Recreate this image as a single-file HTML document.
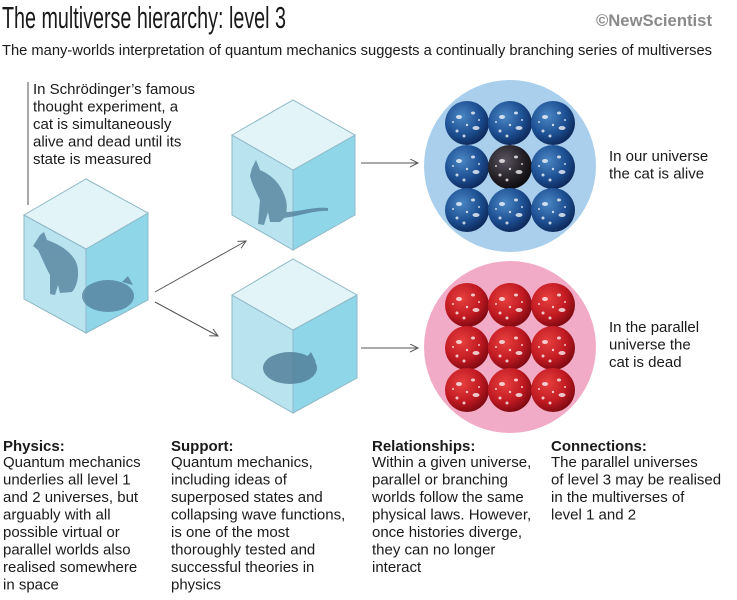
<!DOCTYPE html>
<html><head><meta charset="utf-8"><style>
html,body{margin:0;padding:0;background:#fff}
svg{display:block}
text{font-family:"Liberation Sans Narrow","Liberation Sans",sans-serif;fill:#1a1a1a}
.b{font-size:15px}
.h{font-size:15px;font-weight:bold;font-family:"Liberation Sans",sans-serif}
</style></head><body>
<svg width="737" height="600" viewBox="0 0 737 600" xmlns="http://www.w3.org/2000/svg">
<defs>
<radialGradient id="bl" cx="0.38" cy="0.35" r="0.7">
<stop offset="0" stop-color="#4a86c4"/><stop offset="0.6" stop-color="#1d4f92"/><stop offset="1" stop-color="#0c2656"/></radialGradient>
<radialGradient id="bk" cx="0.38" cy="0.35" r="0.7">
<stop offset="0" stop-color="#5a5560"/><stop offset="0.6" stop-color="#262228"/><stop offset="1" stop-color="#0b0a0e"/></radialGradient>
<radialGradient id="rd" cx="0.38" cy="0.35" r="0.7">
<stop offset="0" stop-color="#e8403e"/><stop offset="0.6" stop-color="#c11a22"/><stop offset="1" stop-color="#7a0810"/></radialGradient>
<marker id="ar" markerWidth="10" markerHeight="10" refX="8" refY="4" orient="auto" markerUnits="userSpaceOnUse">
<path d="M0,0 L8,4 L0,8" fill="none" stroke="#555" stroke-width="1"/></marker>
<g id="dots" fill="#fff" opacity="0.75">
<ellipse cx="-8" cy="-6" rx="3" ry="2"/><ellipse cx="6" cy="-10" rx="2" ry="1.5"/><ellipse cx="9" cy="5" rx="3.5" ry="2"/><circle cx="-10" cy="8" r="1.5"/><circle cx="0" cy="2" r="1.2"/><circle cx="-3" cy="13" r="1.5"/><circle cx="12" cy="-3" r="1"/><circle cx="-14" cy="-1" r="1"/>
</g>
</defs>

<text x="2" y="28" style="font-size:31px" textLength="284" lengthAdjust="spacingAndGlyphs">The multiverse hierarchy: level 3</text>
<text x="596" y="26" style="font-size:17px;fill:#8a8a8a;font-weight:bold" textLength="116" lengthAdjust="spacingAndGlyphs">©NewScientist</text>
<text x="2" y="55" style="font-size:15px" textLength="710" lengthAdjust="spacingAndGlyphs">The many-worlds interpretation of quantum mechanics suggests a continually branching series of multiverses</text>

<line x1="28" y1="82" x2="28" y2="205" stroke="#555" stroke-width="1"/>
<g class="b">
<text x="33" y="94" class="b">In Schrödinger’s famous</text>
<text x="33" y="111.5" class="b">thought experiment, a</text>
<text x="33" y="129" class="b">cat is simultaneously</text>
<text x="33" y="146.5" class="b">alive and dead until its</text>
<text x="33" y="164" class="b">state is measured</text>
</g>

<!-- cube 1 -->
<g stroke="#8fb9c7" stroke-width="1">
<polygon points="24,215 86,249 86,333 24,299" fill="#b9e3ef"/>
<polygon points="86,249 148,213 148,300 86,333" fill="#8fd6e8"/>
<polygon points="24,215 86,179 148,213 86,249" fill="#e3f4f9"/>
</g>
<g fill="#4f7b98" opacity="0.75">
<path d="M40,235 L44,232 L47,240 C58,244 70,250 76,262 C80,272 78,285 72,292 L60,293 L58,285 L55,295 L50,294 L50,275 C46,268 42,258 38,250 L33,246 Z"/>
<ellipse cx="108" cy="296" rx="26" ry="16"/>
<path d="M122,282 L128,276 L133,285 Z"/>
</g>

<!-- cube 2 -->
<g stroke="#8fb9c7" stroke-width="1">
<polygon points="232,135 293,170 293,250 232,215" fill="#b9e3ef"/>
<polygon points="293,170 355,135 355,215 293,250" fill="#8fd6e8"/>
<polygon points="232,135 293,100 355,135 293,170" fill="#e3f4f9"/>
</g>
<g fill="#4f7b98" opacity="0.75">
<path d="M252,168 L256,160 L260,170 C272,175 282,185 286,200 C288,210 286,218 280,222 L270,222 L268,212 L264,225 L258,224 L260,200 C256,192 252,184 250,176 Z"/>
<path d="M284,212 C300,212 315,206 328,208 L328,211 C315,210 300,216 284,218 Z"/>
</g>

<!-- cube 3 -->
<g stroke="#8fb9c7" stroke-width="1">
<polygon points="232,295 293,330 293,413 232,378" fill="#b9e3ef"/>
<polygon points="293,330 357,295 357,378 293,413" fill="#8fd6e8"/>
<polygon points="232,295 293,259 357,295 293,330" fill="#e3f4f9"/>
</g>
<g fill="#4f7b98" opacity="0.8">
<ellipse cx="290" cy="368" rx="27" ry="16"/>
<path d="M306,358 L311,352 L316,362 Z"/>
</g>

<!-- arrows -->
<g stroke="#555" stroke-width="1" fill="none" marker-end="url(#ar)">
<line x1="155" y1="292" x2="246" y2="241"/>
<line x1="155" y1="302" x2="218" y2="336"/>
<line x1="361" y1="163" x2="418" y2="163"/>
<line x1="361" y1="348" x2="418" y2="348"/>
</g>

<!-- blue circle -->
<circle cx="510" cy="166" r="86" fill="#a9cfec"/>
<g>
<circle cx="467" cy="123" r="22" fill="url(#bl)"/><use href="#dots" x="467" y="123"/>
<circle cx="510" cy="123" r="22" fill="url(#bl)"/><use href="#dots" x="510" y="123"/>
<circle cx="553" cy="123" r="22" fill="url(#bl)"/><use href="#dots" x="553" y="123"/>
<circle cx="467" cy="167" r="22" fill="url(#bl)"/><use href="#dots" x="467" y="167"/>
<circle cx="510" cy="167" r="22" fill="url(#bk)"/><use href="#dots" x="510" y="167"/>
<circle cx="553" cy="167" r="22" fill="url(#bl)"/><use href="#dots" x="553" y="167"/>
<circle cx="467" cy="210" r="22" fill="url(#bl)"/><use href="#dots" x="467" y="210"/>
<circle cx="510" cy="210" r="22" fill="url(#bl)"/><use href="#dots" x="510" y="210"/>
<circle cx="553" cy="210" r="22" fill="url(#bl)"/><use href="#dots" x="553" y="210"/>
</g>
<text x="609" y="161" class="b">In our universe</text>
<text x="609" y="178.5" class="b">the cat is alive</text>

<!-- pink circle -->
<circle cx="510" cy="347" r="86" fill="#f2abc6"/>
<g>
<circle cx="467" cy="305" r="22" fill="url(#rd)"/><use href="#dots" x="467" y="305"/>
<circle cx="510" cy="305" r="22" fill="url(#rd)"/><use href="#dots" x="510" y="305"/>
<circle cx="553" cy="305" r="22" fill="url(#rd)"/><use href="#dots" x="553" y="305"/>
<circle cx="467" cy="348" r="22" fill="url(#rd)"/><use href="#dots" x="467" y="348"/>
<circle cx="510" cy="348" r="22" fill="url(#rd)"/><use href="#dots" x="510" y="348"/>
<circle cx="553" cy="348" r="22" fill="url(#rd)"/><use href="#dots" x="553" y="348"/>
<circle cx="467" cy="390" r="22" fill="url(#rd)"/><use href="#dots" x="467" y="390"/>
<circle cx="510" cy="390" r="22" fill="url(#rd)"/><use href="#dots" x="510" y="390"/>
<circle cx="553" cy="390" r="22" fill="url(#rd)"/><use href="#dots" x="553" y="390"/>
</g>
<text x="609" y="332" class="b">In the parallel</text>
<text x="609" y="349.5" class="b">universe the</text>
<text x="609" y="367" class="b">cat is dead</text>

<!-- bottom columns -->
<text x="3" y="451" class="h">Physics:</text>
<text x="3" y="467" class="b">Quantum mechanics</text>
<text x="3" y="484.5" class="b">underlies all level 1</text>
<text x="3" y="502" class="b">and 2 universes, but</text>
<text x="3" y="519.5" class="b">arguably with all</text>
<text x="3" y="537" class="b">possible virtual or</text>
<text x="3" y="554.5" class="b">parallel worlds also</text>
<text x="3" y="572" class="b">realised somewhere</text>
<text x="3" y="589.5" class="b">in space</text>

<text x="171" y="451" class="h">Support:</text>
<text x="171" y="467" class="b">Quantum mechanics,</text>
<text x="171" y="484.5" class="b">including ideas of</text>
<text x="171" y="502" class="b">superposed states and</text>
<text x="171" y="519.5" class="b">collapsing wave functions,</text>
<text x="171" y="537" class="b">is one of the most</text>
<text x="171" y="554.5" class="b">thoroughly tested and</text>
<text x="171" y="572" class="b">successful theories in</text>
<text x="171" y="589.5" class="b">physics</text>

<text x="372" y="451" class="h">Relationships:</text>
<text x="372" y="467" class="b">Within a given universe,</text>
<text x="372" y="484.5" class="b">parallel or branching</text>
<text x="372" y="502" class="b">worlds follow the same</text>
<text x="372" y="519.5" class="b">physical laws. However,</text>
<text x="372" y="537" class="b">once histories diverge,</text>
<text x="372" y="554.5" class="b">they can no longer</text>
<text x="372" y="572" class="b">interact</text>

<text x="551" y="451" class="h">Connections:</text>
<text x="551" y="467" class="b">The parallel universes</text>
<text x="551" y="484.5" class="b">of level 3 may be realised</text>
<text x="551" y="502" class="b">in the multiverses of</text>
<text x="551" y="519.5" class="b">level 1 and 2</text>
</svg>
</body></html>
